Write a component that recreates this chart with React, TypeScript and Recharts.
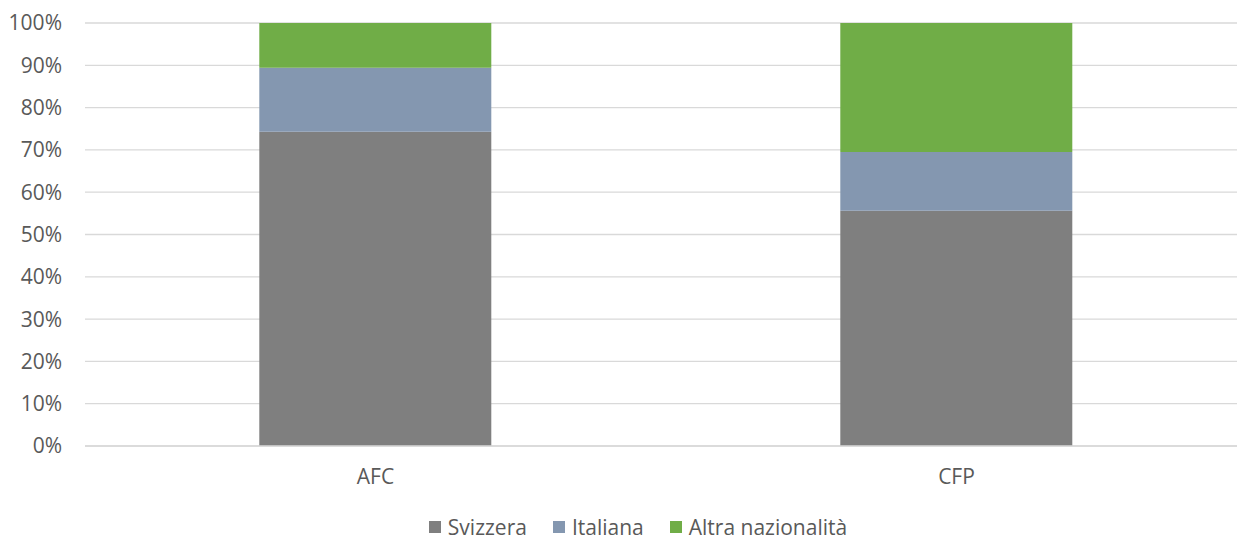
import React from 'react'
import { BarChart, Bar, XAxis, YAxis, CartesianGrid, Legend } from 'recharts'

const categories = ['AFC', 'CFP']
const svizzera = [74.3, 55.6]
const italiana = [15.1, 13.9]
const altra = [10.6, 30.5]
const yTicks = [0, 10, 20, 30, 40, 50, 60, 70, 80, 90, 100]
const seriesNames = ['Svizzera', 'Italiana', 'Altra nazionalità']

const data = categories.map((c, i) => ({
  name: c,
  svizzera: svizzera[i],
  italiana: italiana[i],
  altra: altra[i],
}))

const FONT = '"Open Sans", sans-serif'
const TEXT = '#595959'
const SIZE = 21

function LegendContent({ payload }: { payload?: Array<{ value: string; color: string }> }) {
  if (!payload) return null
  const items = seriesNames
    .map((n) => payload.find((p) => p.value === n))
    .filter(Boolean) as Array<{ value: string; color: string }>
  return (
    <div style={{ display: 'flex', justifyContent: 'center', alignItems: 'center', gap: 26, height: 24, paddingLeft: 39, boxSizing: 'border-box' }}>
      {items.map((p) => (
        <div key={p.value} style={{ display: 'flex', alignItems: 'center' }}>
          <span style={{ width: 12, height: 12, background: p.color, display: 'inline-block', marginRight: 7 }} />
          <span style={{ fontFamily: FONT, fontSize: SIZE, color: TEXT, lineHeight: '24px', whiteSpace: 'nowrap' }}>{p.value}</span>
        </div>
      ))}
    </div>
  )
}

export default function App() {
  return (
    <div style={{ position: 'absolute', left: 0, top: 0, width: 1237, height: 539, background: '#fff' }}>
      <BarChart
        width={1237}
        height={539}
        data={data}
        margin={{ top: 23, right: -10, left: 0, bottom: 0 }}
        barCategoryGap="30%"
      >
        <CartesianGrid vertical={false} stroke="#D9D9D9" strokeWidth={1.3} />
        <XAxis
          dataKey="name"
          height={69}
          axisLine={{ stroke: '#D9D9D9', strokeWidth: 1.3 }}
          tickLine={false}
          tickMargin={17}
          tick={{ fontFamily: FONT, fontSize: SIZE, fill: TEXT }}
        />
        <YAxis
          width={85}
          domain={[0, 100]}
          ticks={yTicks}
          tickFormatter={(v) => `${v}%`}
          axisLine={false}
          tickLine={false}
          tickMargin={17}
          tick={{ fontFamily: FONT, fontSize: SIZE, fill: TEXT }}
        />
        <Legend
          verticalAlign="bottom"
          content={<LegendContent />}
          wrapperStyle={{ left: 0, width: 1237, height: 24 }}
        />
        <Bar dataKey="svizzera" name="Svizzera" stackId="a" fill="#7F7F7F" isAnimationActive={false} />
        <Bar dataKey="italiana" name="Italiana" stackId="a" fill="#8497B0" isAnimationActive={false} />
        <Bar dataKey="altra" name="Altra nazionalità" stackId="a" fill="#70AD47" isAnimationActive={false} />
      </BarChart>
    </div>
  )
}
